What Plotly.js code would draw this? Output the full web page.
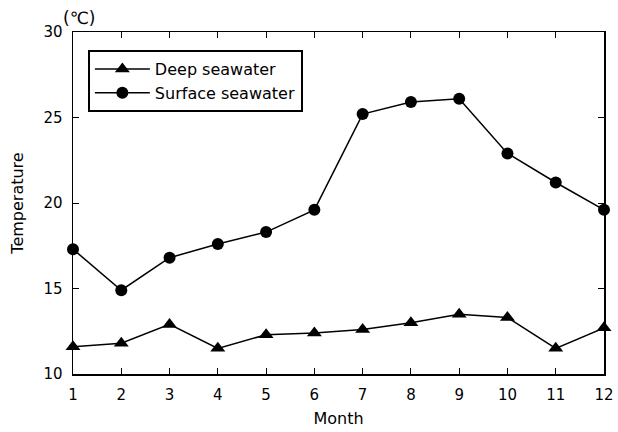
<!DOCTYPE html>
<html>
<head>
<meta charset="utf-8">
<script src="https://cdn.plot.ly/plotly-3.0.1.min.js"></script>
<style>html,body{margin:0;padding:0;background:#fff;}#chart{width:618px;height:432px;}</style>
</head>
<body>
<div id="chart"></div>
<script>
const months = [1,2,3,4,5,6,7,8,9,10,11,12];
const deepSeawater = [11.6,11.8,12.9,11.5,12.3,12.4,12.6,13.0,13.5,13.3,11.5,12.7];
const surfaceSeawater = [17.3,14.9,16.8,17.6,18.3,19.6,25.2,25.9,26.1,22.9,21.2,19.6];
const xTickLabels = ['1','2','3','4','5','6','7','8','9','10','11','12'];
const yTickVals = [10,15,20,25,30];

const font = 'DejaVu Sans, sans-serif';

const traces = [
  {x: months, y: deepSeawater, name: 'Deep seawater', mode: 'lines+markers', cliponaxis: false,
   line: {color: '#000', width: 1.5}, marker: {symbol: 'triangle-up', size: 13, color: '#000'}},
  {x: months, y: surfaceSeawater, name: 'Surface seawater', mode: 'lines+markers', cliponaxis: false,
   line: {color: '#000', width: 1.5}, marker: {symbol: 'circle', size: 12, color: '#000'}}
];

const layout = {
  width: 618, height: 432,
  margin: {l: 73, r: 14, t: 32, b: 58},
  paper_bgcolor: '#fff', plot_bgcolor: '#fff',
  font: {family: font, color: '#000', size: 14},
  showlegend: true,
  legend: {x: 0.028, y: 0.947, xanchor: 'left', yanchor: 'top',
    bgcolor: '#fff', bordercolor: '#000', borderwidth: 2,
    font: {size: 16, family: font}, tracegroupgap: 0, itemwidth: 55},
  xaxis: {range: [1, 12], tickvals: months, ticktext: xTickLabels,
    showgrid: false, zeroline: false, showline: true, linecolor: '#000', linewidth: 1.5,
    mirror: 'ticks', ticks: 'inside', ticklen: 6, tickcolor: '#000', ticklabelstandoff: 6,
    tickfont: {size: 15}, title: {text: 'Month', font: {size: 16}, standoff: 10}},
  yaxis: {range: [10, 30], tickvals: yTickVals,
    showgrid: false, zeroline: false, showline: true, linecolor: '#000', linewidth: 1.5,
    mirror: 'ticks', ticks: 'inside', ticklen: 6, tickcolor: '#000', ticklabelstandoff: 6,
    tickfont: {size: 15}, title: {text: 'Temperature', font: {size: 16}, standoff: 16}},
  annotations: [
    {text: '(℃)', xref: 'paper', yref: 'paper', x: 0.012, y: 1, yanchor: 'bottom', xanchor: 'center',
     yshift: 2, showarrow: false, font: {size: 17, family: font}}
  ]
};

Plotly.newPlot('chart', traces, layout, {displayModeBar: false, staticPlot: true});
</script>
</body>
</html>
